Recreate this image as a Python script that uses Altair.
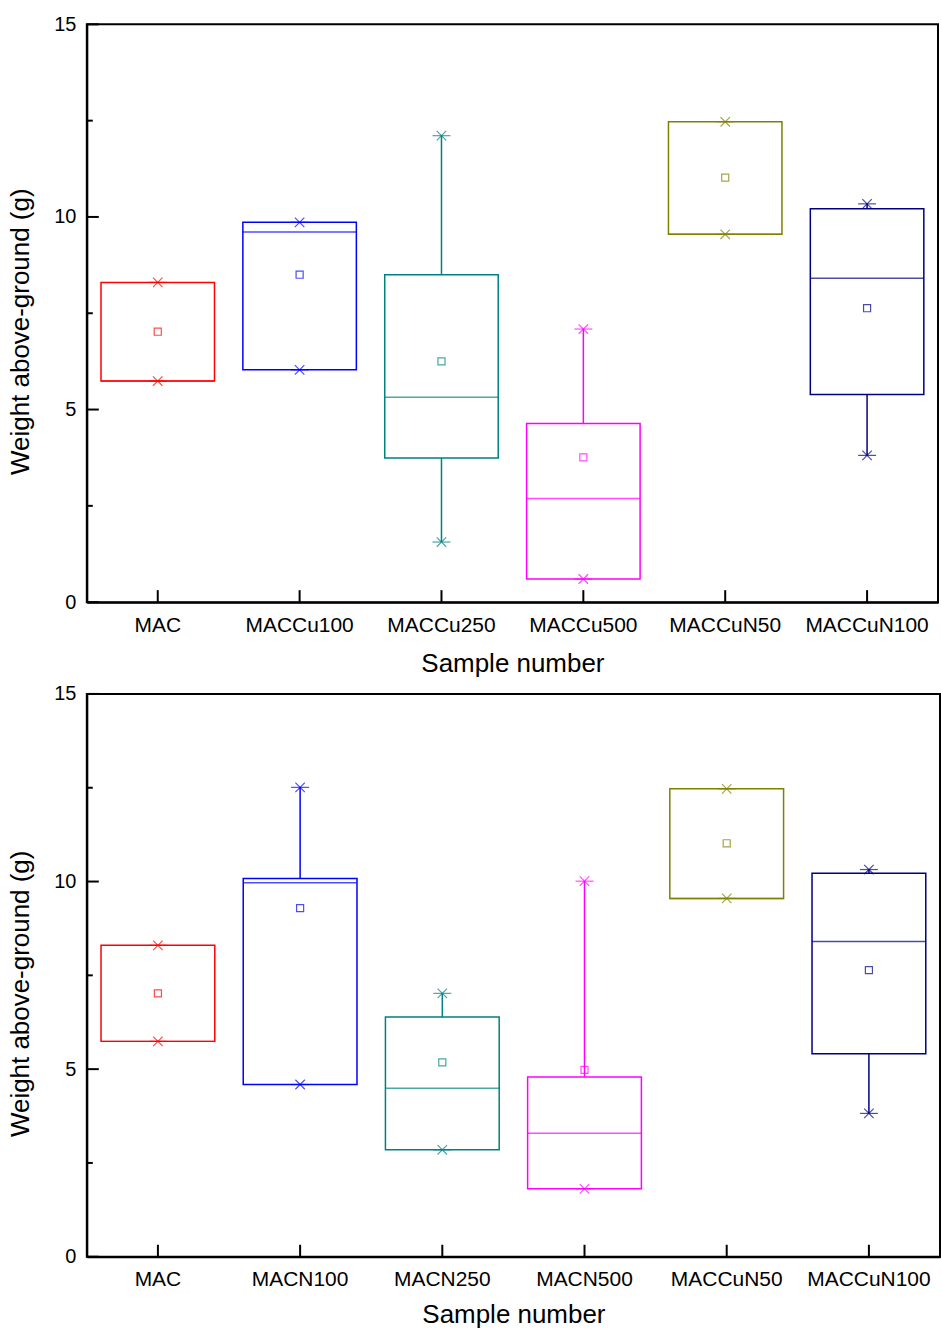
import altair as alt
import pandas as pd

FONT = "Liberation Sans"

# Upper panel: copper-loaded samples
cats_top = ["MAC", "MACCu100", "MACCu250", "MACCu500", "MACCuN50", "MACCuN100"]
q1_top = [5.74, 6.03, 3.74, 0.60, 9.55, 5.39]
q3_top = [8.30, 9.86, 8.50, 4.64, 12.47, 10.21]
median_top = [5.74, 9.61, 5.32, 2.69, 9.55, 8.41]
mean_top = [7.02, 8.50, 6.25, 3.76, 11.02, 7.63]
min_top = [5.74, 6.03, 1.56, 0.60, 9.55, 3.81]
max_top = [8.30, 9.86, 12.11, 7.09, 12.47, 10.34]

# Lower panel: nitrogen-loaded samples
cats_bot = ["MAC", "MACN100", "MACN250", "MACN500", "MACCuN50", "MACCuN100"]
q1_bot = [5.74, 4.59, 2.85, 1.81, 9.55, 5.41]
q3_bot = [8.30, 10.08, 6.39, 4.79, 12.47, 10.22]
median_bot = [5.74, 9.97, 4.49, 3.29, 9.55, 8.40]
mean_bot = [7.02, 9.29, 5.18, 4.98, 11.02, 7.64]
min_bot = [5.74, 4.59, 2.85, 1.81, 9.55, 3.82]
max_bot = [8.30, 12.51, 7.02, 10.01, 12.47, 10.32]

box_colors = ["#FF0000", "#0000FF", "#008080", "#FF00FF", "#808000", "#000080"]
y_major = [0, 5, 10, 15]
y_minor = [2.5, 7.5, 12.5]

X_SHAPE = "M-1,-1L1,1M-1,1L1,-1"


def panel(cats, q1, q3, med, mean, lo, hi, w, h, x_title_pad, y_title_pad):
    df = pd.DataFrame({"cat": cats, "q1": q1, "q3": q3, "med": med,
                       "mean": mean, "lo": lo, "hi": hi})
    major = pd.DataFrame({"v": y_major})
    minor = pd.DataFrame({"v": y_minor})

    title_style = dict(titleFont=FONT, titleFontSize=26, titleFontWeight="normal",
                       titleColor="black", labelFont=FONT, labelColor="black",
                       domainColor="black", domainWidth=2)
    xenc = alt.X("cat:N", sort=cats,
                 scale=alt.Scale(domain=cats, paddingInner=0.2, paddingOuter=0.1),
                 axis=alt.Axis(title="Sample number", labelAngle=0, ticks=False,
                               tickSize=0, labelPadding=12, titlePadding=x_title_pad,
                               labelFontSize=21, **title_style))
    yscale = alt.Scale(domain=[0, 15], nice=False, zero=True)
    col = alt.Color("cat:N", scale=alt.Scale(domain=cats, range=box_colors), legend=None)

    base = alt.Chart(df)
    box = base.mark_bar(filled=False, strokeWidth=1.5).encode(
        x=xenc,
        y=alt.Y("q1:Q", scale=yscale,
                axis=alt.Axis(title="Weight above-ground (g)", values=y_major,
                              ticks=False, tickSize=0, labelPadding=11,
                              titlePadding=y_title_pad, titleY=h / 2 + 18,
                              labelFontSize=20, grid=False, **title_style)),
        y2="q3:Q", color=col)
    whisk_hi = base.mark_rule(strokeWidth=1.5).encode(x="cat:N", y="q3:Q", y2="hi:Q", color=col)
    whisk_lo = base.mark_rule(strokeWidth=1.5).encode(x="cat:N", y="lo:Q", y2="q1:Q", color=col)
    bw = round(0.8 * w / len(cats))
    median = base.mark_tick(size=bw, thickness=1.5).encode(x="cat:N", y="med:Q", color=col)
    cap_hi = base.mark_tick(size=18, thickness=1.2).encode(x="cat:N", y="hi:Q", color=col)
    cap_lo = base.mark_tick(size=18, thickness=1.2).encode(x="cat:N", y="lo:Q", color=col)
    mk_hi = base.mark_point(shape=X_SHAPE, size=90, strokeWidth=1.2, filled=False).encode(
        x="cat:N", y="hi:Q", color=col)
    mk_lo = base.mark_point(shape=X_SHAPE, size=90, strokeWidth=1.2, filled=False).encode(
        x="cat:N", y="lo:Q", color=col)
    mean_pt = base.mark_point(shape="square", size=50, strokeWidth=1.2, filled=False).encode(
        x="cat:N", y="mean:Q", color=col)

    # inward ticks on the left and bottom axes
    ytick_major = alt.Chart(major).mark_rule(color="black", strokeWidth=2).encode(
        y="v:Q", x=alt.value(0), x2=alt.value(12))
    ytick_minor = alt.Chart(minor).mark_rule(color="black", strokeWidth=2).encode(
        y="v:Q", x=alt.value(0), x2=alt.value(6))
    xtick = base.mark_rule(color="black", strokeWidth=2).encode(
        x="cat:N", y=alt.value(h), y2=alt.value(h - 12))

    return alt.layer(box, whisk_hi, whisk_lo, median, cap_hi, cap_lo, mk_hi, mk_lo,
                     mean_pt, ytick_major, ytick_minor, xtick).properties(width=w, height=h)


top = panel(cats_top, q1_top, q3_top, median_top, mean_top, min_top, max_top,
            853, 579, 16, 20)
bot = panel(cats_bot, q1_bot, q3_bot, median_bot, mean_bot, min_bot, max_bot,
            855, 564, 12, 20)

chart = alt.vconcat(top, bot, spacing=5).resolve_scale(
    color="independent", x="independent"
).properties(
    padding={"left": 6, "top": 12, "right": 0, "bottom": 0},
    background="white"
).configure_view(
    stroke="black", strokeWidth=2
)

chart.save("out.html", embed_options={"renderer": "svg", "actions": False})
